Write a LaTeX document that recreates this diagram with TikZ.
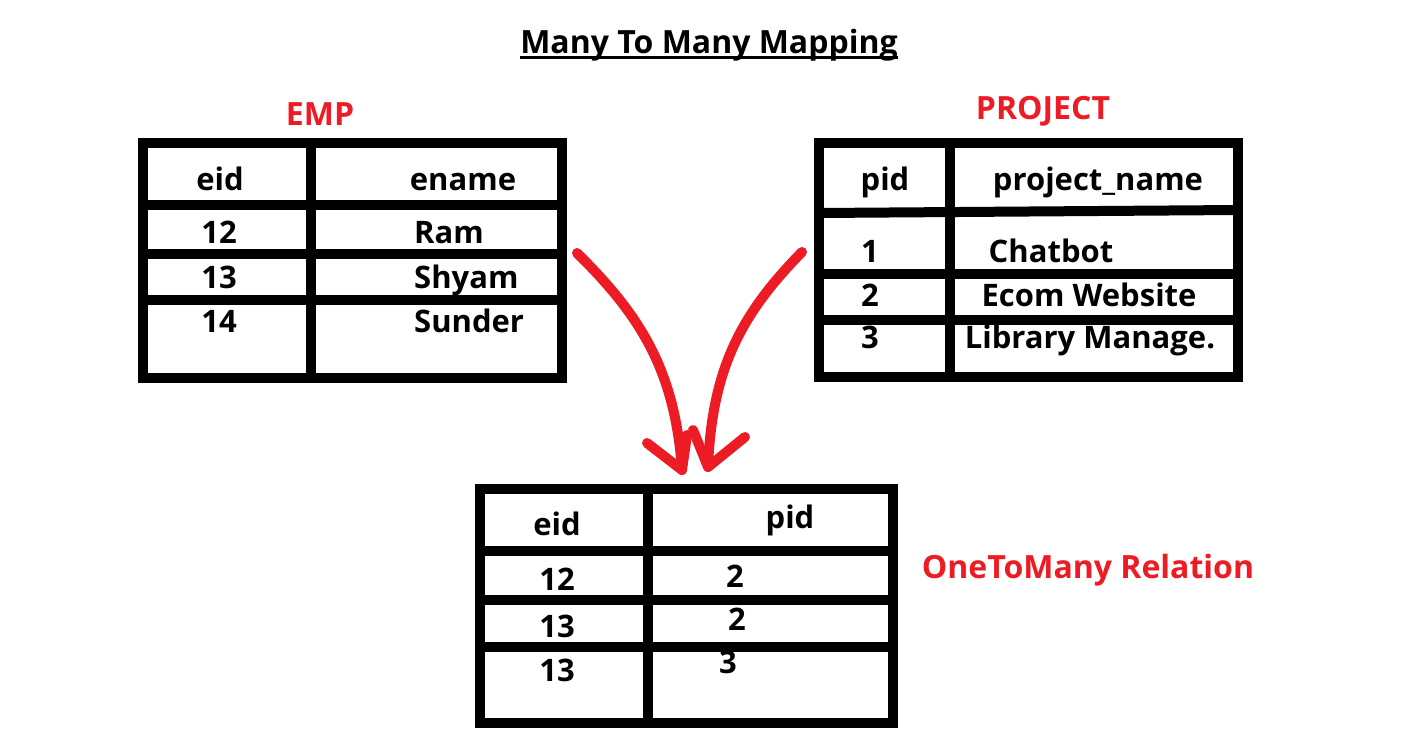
\documentclass[tikz,border=0pt]{standalone}
\usepackage{fontspec}
\setmainfont{Open Sans}
\definecolor{pred}{HTML}{ED1C24}
\begin{document}
\begin{tikzpicture}[x=1pt,y=-1pt,
  tline/.style={line width=10pt,line cap=butt},
  cell/.style={inner sep=0pt,anchor=base,font=\fontsize{31}{34}\selectfont\bfseries},
  lcell/.style={cell,anchor=base west},
  lab/.style={inner sep=0pt,anchor=base,text=pred,font=\fontsize{32}{35}\selectfont\bfseries},
  arr/.style={pred,line width=10pt,line cap=round,line join=round}]
\useasboundingbox (0,0) rectangle (1404,755);
\fill[white] (0,0) rectangle (1404,755);
% title
\node[inner sep=0pt,anchor=base,font=\fontsize{32}{35}\selectfont\bfseries] (title) at (709,53) {Many To Many Mapping};
\draw[line width=3pt] (520,57.5) -- (898,57.5);
% labels
\node[lab] (emplab) at (320,125) {EMP};
\node[lab] (projlab) at (1043,119) {PROJECT};
\node[lab] (rellab) at (1088,578) {OneToMany Relation};
% EMP table
\draw[tline] (143,143) rectangle (562,378);
\draw[tline] (311,143) -- (311,378);
\draw[tline] (143,205) -- (557,205);
\draw[tline] (143,253.5) -- (562,253.5);
\draw[tline] (139,300) -- (562,300);
\node[cell] (e0a) at (220,190) {eid};
\node[cell] (e0b) at (463,190) {ename};
\node[cell] (e1a) at (219,243) {12};
\node[lcell] (e1b) at (414,243) {Ram};
\node[cell] (e2a) at (219,288) {13};
\node[lcell] (e2b) at (414,288) {Shyam};
\node[cell] (e3a) at (219,332) {14};
\node[lcell] (e3b) at (414,332) {Sunder};
% PROJECT table
\draw[tline] (819,143) rectangle (1238,377);
\draw[tline] (950,143) -- (950,377);
\draw[tline] (819,213) -- (1238,210);
\draw[tline] (815,274) -- (1238,274);
\draw[tline] (819,320) -- (1238,320);
\node[cell] (p0a) at (885,190) {pid};
\node[cell] (p0b) at (1098,190) {project\_name};
\node[cell] (p1a) at (870,262) {1};
\node[cell] (p1b) at (1051,262) {Chatbot};
\node[cell] (p2a) at (870,306) {2};
\node[cell] (p2b) at (1089,306) {Ecom Website};
\node[cell] (p3a) at (870,348) {3};
\node[cell] (p3b) at (1090,348) {Library Manage.};
% relation table
\draw[tline] (480,489) rectangle (893,723);
\draw[tline] (648,489) -- (648,723);
\draw[tline] (480,551) -- (890,551);
\draw[tline] (480,600) -- (893,600);
\draw[tline] (476,647) -- (893,647);
\node[cell] (r0a) at (557,535) {eid};
\node[cell] (r0b) at (790,528) {pid};
\node[cell] (r1a) at (557,590) {12};
\node[cell] (r1b) at (735,587) {2};
\node[cell] (r2a) at (557,637) {13};
\node[cell] (r2b) at (737,630) {2};
\node[cell] (r3a) at (557,681) {13};
\node[cell] (r3b) at (728,673) {3};
% arrows
\coordinate (a1s) at (577,253);
\coordinate (a1e) at (682,470);
\coordinate (a2s) at (802,252);
\coordinate (a2e) at (708,467);
\coordinate (h1l) at (647,443);
\coordinate (h1r) at (687,435);
\coordinate (h2l) at (693,430);
\coordinate (h2r) at (745,437);
\draw[arr] (a1s) .. controls (640,315) and (675,370) .. (a1e);
\draw[arr] (h1l) -- (a1e) -- (h1r);
\draw[arr] (a2s) .. controls (740,315) and (712,370) .. (a2e);
\draw[arr] (h2l) -- (a2e) -- (h2r);
\end{tikzpicture}
\end{document}
